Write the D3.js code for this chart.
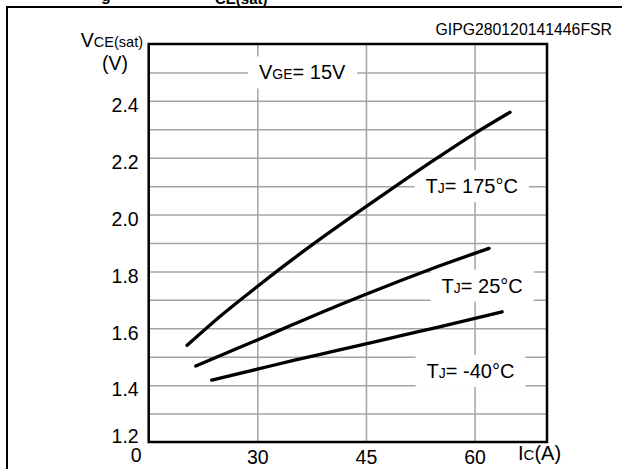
<!DOCTYPE html>
<html>
<head>
<meta charset="utf-8">
<script src="https://cdn.jsdelivr.net/npm/d3@7"></script>
<style>
  body { margin: 0; background: #fff; }
  svg { display: block; font-family: "Liberation Sans", Arial, Helvetica, sans-serif; }
</style>
</head>
<body>
<svg id="chart" width="622" height="469"></svg>
<script>
// Curves (Ic in A, VCE(sat) in V)
const ic175 = [20.3, 25, 30, 35, 40, 45, 50, 55, 60, 64.9];
const vce175 = [1.54, 1.645, 1.747, 1.845, 1.938, 2.028, 2.116, 2.202, 2.285, 2.36];
const ic25 = [21.5, 25, 30, 35, 41.4, 45, 50, 55, 62];
const vce25 = [1.467, 1.505, 1.559, 1.614, 1.683, 1.72, 1.77, 1.818, 1.881];
const icM40 = [23.7, 30, 35, 40, 45, 50, 55, 63.8];
const vceM40 = [1.418, 1.456, 1.487, 1.516, 1.545, 1.575, 1.604, 1.658];

const xTicks = [15, 30, 45, 60];          // left edge is labelled "0"
const yTicks = [1.2, 1.4, 1.6, 1.8, 2.0, 2.2, 2.4];
const yGrid = [1.3, 1.4, 1.5, 1.6, 1.7, 1.8, 1.9, 2.0, 2.1, 2.2, 2.3, 2.4, 2.5];

const svg = d3.select("#chart");
const plotL = 148.7, plotR = 547, plotT = 44, plotB = 442;
const width = plotR - plotL, height = plotB - plotT;

const x = d3.scaleLinear().domain([15, 70]).range([plotL, plotR]);
const y = d3.scaleLinear().domain([1.2, 2.6]).range([plotB, plotT]);

// outer figure frame (left and top edges visible)
svg.append("path")
  .attr("d", "M7,469 V7 H622")
  .attr("fill", "none").attr("stroke", "#000").attr("stroke-width", 2);

// clipped title fragment at the very top
svg.append("text").attr("x", 101).attr("y", 1)
  .style("font-size", "16px").style("font-weight", "bold").text("g");
svg.append("text").attr("x", 215).attr("y", 4)
  .style("font-size", "15px").style("font-weight", "bold").text("CE(sat)");

svg.append("text").attr("x", 612).attr("y", 35)
  .attr("text-anchor", "end").style("font-size", "15.8px")
  .text("GIPG280120141446FSR");

// grid
const grid = svg.append("g");
grid.append("g")
  .attr("transform", `translate(${plotL},0)`)
  .call(d3.axisLeft(y).tickValues(yGrid).tickSize(-width).tickFormat(""))
  .call(g => g.select(".domain").remove());
grid.append("g")
  .attr("transform", `translate(0,${plotB})`)
  .call(d3.axisBottom(x).tickValues([30, 45, 60]).tickSize(-height).tickFormat(""))
  .call(g => g.select(".domain").remove());
grid.selectAll("line").attr("stroke", "#a4a4a4").attr("stroke-width", 1.5);

// annotations (white boxes break the grid)
const notes = [
  {x: 45, y: 2.5, dx: -107, parts: [["V", 20], ["GE", 14], ["= 15V", 20]]},
  {x: 60, y: 2.1, dx: -49, parts: [["T", 20], ["J", 14], ["= 175°C", 20]]},
  {x: 60, y: 1.75, dx: -33, parts: [["T", 20], ["J", 14], ["= 25°C", 20]]},
  {x: 60, y: 1.45, dx: -48, parts: [["T", 20], ["J", 14], ["= -40°C", 20]]}
];
const boxLayer = svg.append("g");
const lineLayer = svg.append("g");
const textLayer = svg.append("g");
notes.forEach(n => {
  const t = textLayer.append("text")
    .attr("x", x(n.x) + n.dx)
    .attr("y", y(n.y) + 7);
  n.parts.forEach(p => t.append("tspan").style("font-size", p[1] + "px").text(p[0]));
  const b = t.node().getBBox();
  boxLayer.append("rect")
    .attr("x", b.x - 11).attr("y", y(n.y) - 16)
    .attr("width", b.width + 22).attr("height", 32)
    .attr("fill", "#fff");
});

// curves
const line = d3.line().x(d => x(d[0])).y(d => y(d[1])).curve(d3.curveMonotoneX);
[[ic175, vce175], [ic25, vce25], [icM40, vceM40]].forEach(([xs, ys]) => {
  lineLayer.append("path")
    .datum(xs.map((v, i) => [v, ys[i]]))
    .attr("d", line)
    .attr("fill", "none").attr("stroke", "#000")
    .attr("stroke-width", 3.3).attr("stroke-linecap", "round");
});

// plot frame
svg.append("rect")
  .attr("x", plotL).attr("y", plotT).attr("width", width).attr("height", height)
  .attr("fill", "none").attr("stroke", "#000").attr("stroke-width", 2.5);

// y axis labels
const yAxis = svg.append("g")
  .attr("transform", `translate(${plotL},0)`)
  .call(d3.axisLeft(y).tickValues(yTicks).tickSize(0).tickPadding(10).tickFormat(d3.format(".1f")));
yAxis.select(".domain").remove();
yAxis.selectAll("text")
  .style("font-size", "19.5px").attr("fill", "#000")
  .attr("dy", d => d === 1.2 ? "0.05em" : "0.55em");

// x axis labels
const xAxis = svg.append("g")
  .attr("transform", `translate(0,${plotB})`)
  .call(d3.axisBottom(x).tickValues(xTicks).tickSize(0).tickPadding(8)
    .tickFormat(d => d === 15 ? "0" : d));
xAxis.select(".domain").remove();
xAxis.selectAll("text")
  .style("font-size", "19.5px").attr("fill", "#000")
  .attr("dx", d => d === 15 ? -13 : 0)
  .attr("dy", d => d === 15 ? "0.62em" : "0.7em");
svg.selectAll("g").attr("font-family", null).attr("font-size", null);

// axis titles
const yt = svg.append("text").attr("x", 143).attr("y", 47).attr("text-anchor", "end");
yt.append("tspan").style("font-size", "19.5px").text("V");
yt.append("tspan").style("font-size", "14.5px").text("CE(sat)");
svg.append("text").attr("x", 115).attr("y", 70).attr("text-anchor", "middle")
  .style("font-size", "19.5px").text("(V)");

const xt = svg.append("text").attr("x", 518).attr("y", 460);
xt.append("tspan").style("font-size", "20px").text("I");
xt.append("tspan").style("font-size", "15px").text("C");
xt.append("tspan").style("font-size", "20px").text("(A)");
</script>
</body>
</html>
